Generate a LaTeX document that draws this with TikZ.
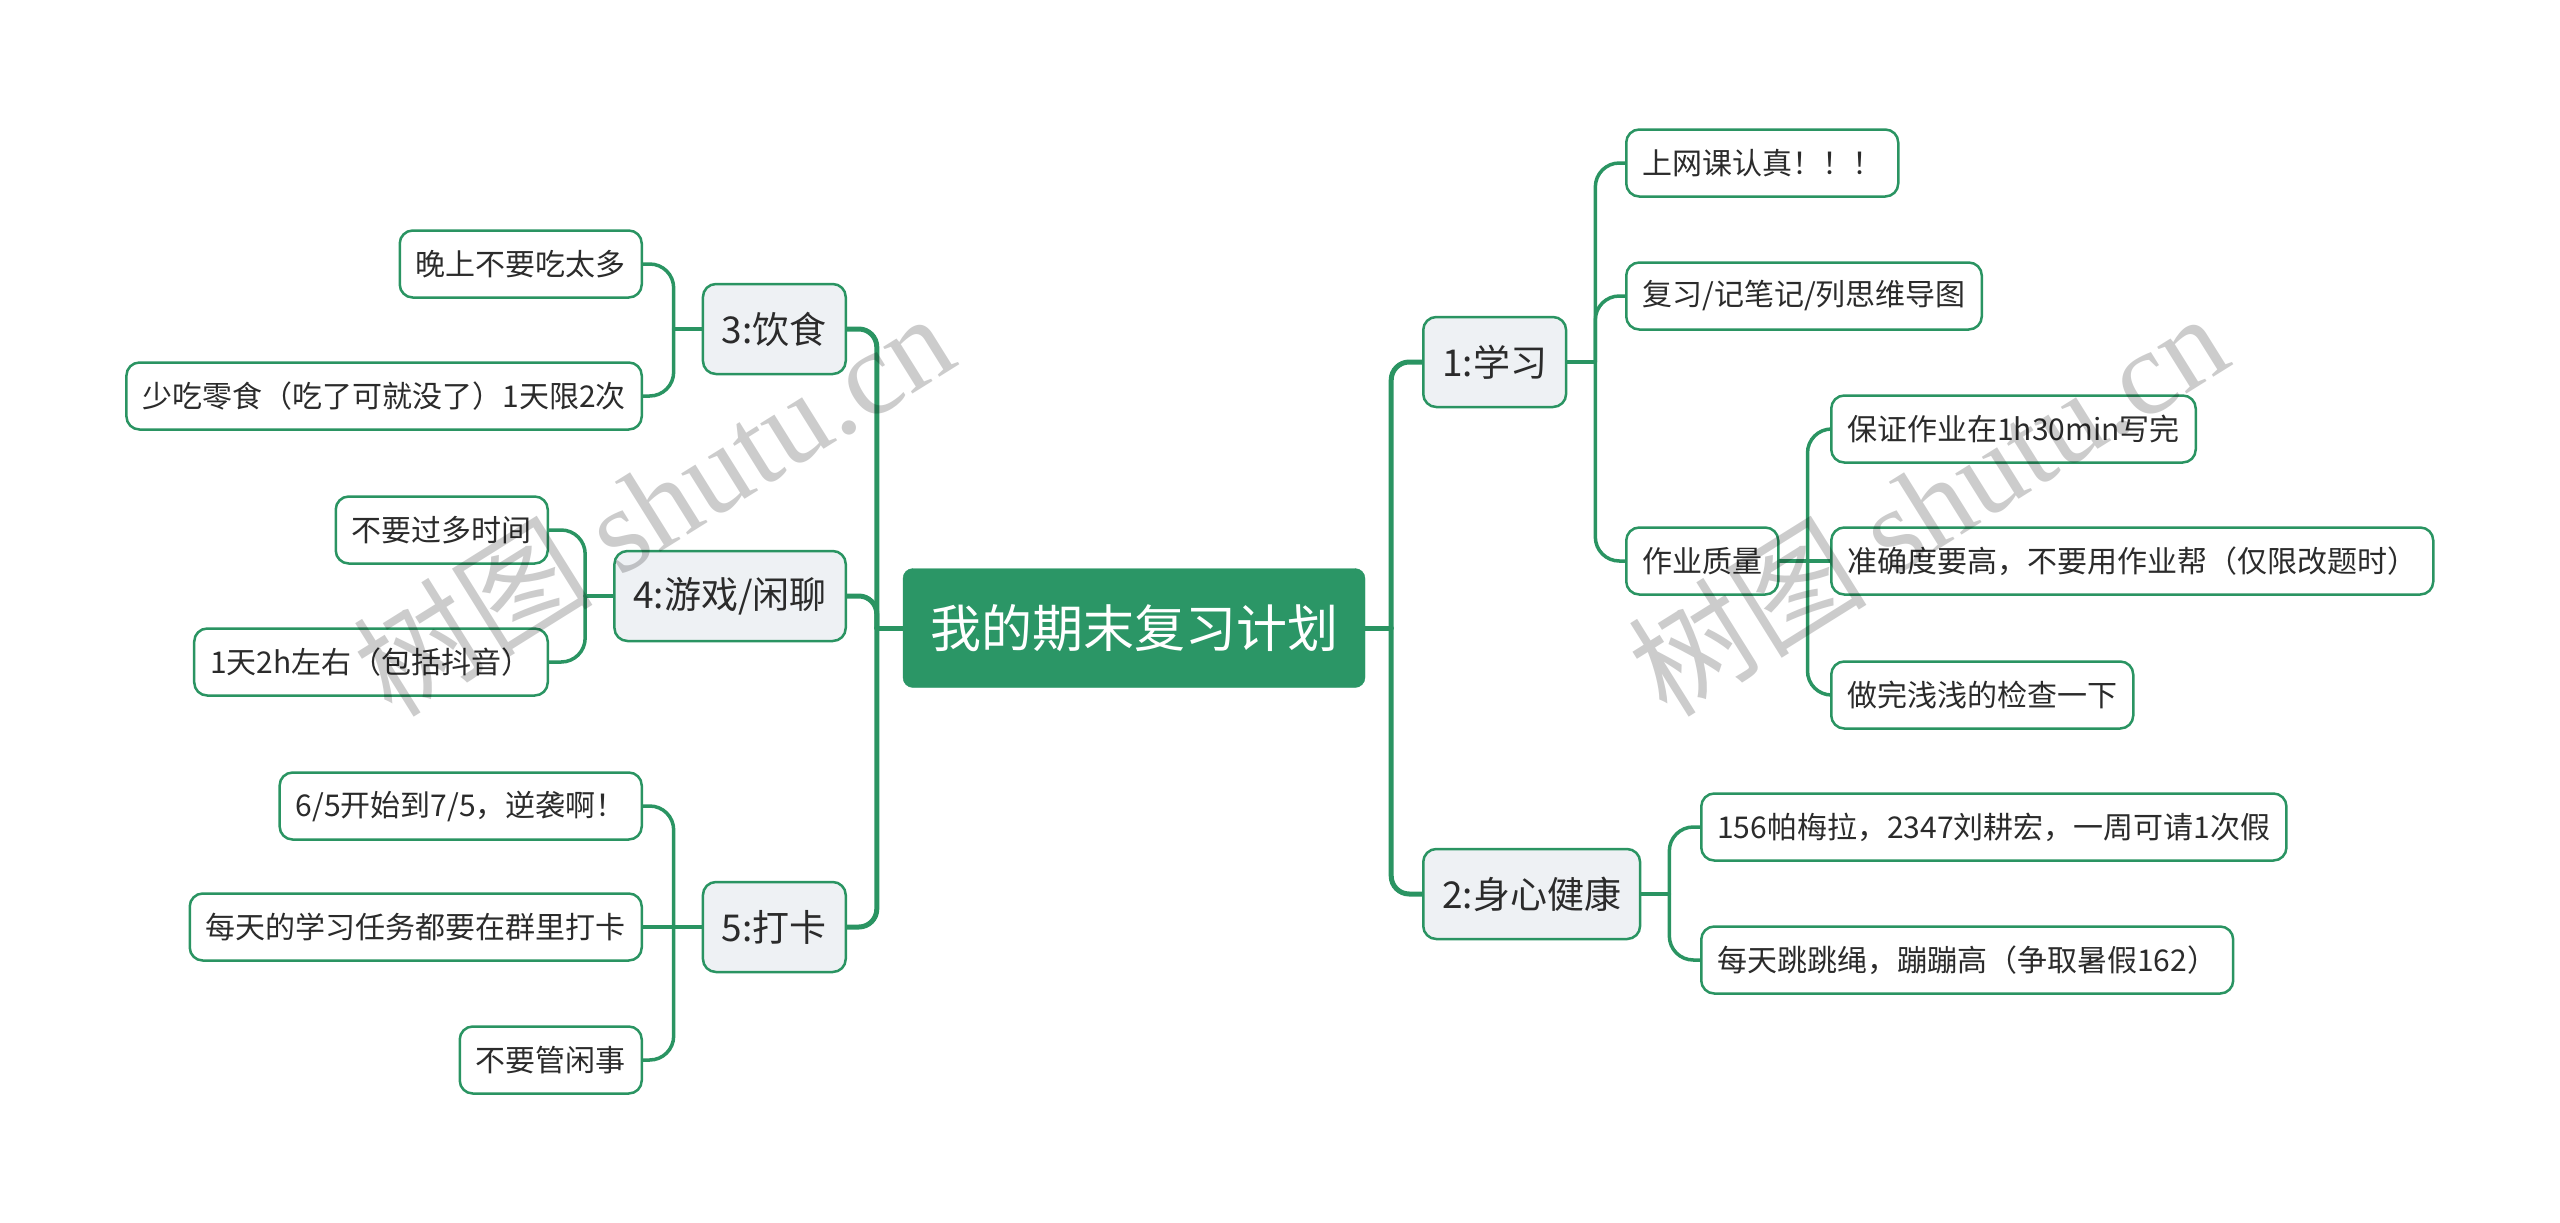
\documentclass[tikz,border=0pt]{standalone}
\usepackage{fontspec}
\setmainfont{Noto Sans CJK SC}
\newfontfamily\wmlat{Liberation Serif}
\usetikzlibrary{calc,backgrounds}
\definecolor{brgreen}{HTML}{2A9462}
\definecolor{rootfill}{HTML}{2B9666}
\definecolor{lonefill}{HTML}{EEF1F4}
\definecolor{txt}{HTML}{2B2B2B}
\tikzset{
 rootbox/.style={draw=rootfill, fill=rootfill, rounded corners=10pt, text=white, font=\fontsize{51}{60}\selectfont, minimum height=119pt, inner xsep=27pt},
 lonebox/.style={draw=brgreen, line width=2.5pt, fill=lonefill, rounded corners=13pt, text=txt, font=\fontsize{37}{44}\selectfont, minimum height=90pt, inner xsep=19pt},
 ltwobox/.style={draw=brgreen, line width=2.5pt, fill=white, rounded corners=13pt, text=txt, font=\fontsize{30}{36}\selectfont, minimum height=67pt, inner xsep=16pt},
 trunk/.style={draw=brgreen, line width=5pt, line cap=round},
 twig/.style={draw=brgreen, line width=3.5pt, line cap=round},
 wmark/.style={rotate=32, text=black, text opacity=0.2, font=\fontsize{120}{120}\selectfont},
}
\begin{document}
\begin{tikzpicture}[x=1pt,y=-1pt]
\useasboundingbox (0,0) rectangle (2560,1223);
% nodes
\node[rootbox] (root) at (1134,628) {我的期末复习计划};
\node[lonebox, anchor=west] (n1) at (1422,362) {1:学习};
\node[lonebox, anchor=west] (n2) at (1422,894) {2:身心健康};
\node[lonebox, anchor=east] (n3) at (847,329) {3:饮食};
\node[lonebox, anchor=east] (n4) at (847,596) {4:游戏/闲聊};
\node[lonebox, anchor=east] (n5) at (847,927) {5:打卡};

\node[ltwobox, anchor=west] (a1) at (1625,163) {上网课认真！！！};
\node[ltwobox, anchor=west] (a2) at (1625,296) {复习/记笔记/列思维导图};
\node[ltwobox, anchor=west] (a3) at (1625,561) {作业质量};
\node[ltwobox, anchor=west] (b1) at (1830,429) {保证作业在1h30min写完};
\node[ltwobox, anchor=west] (b2) at (1830,561) {准确度要高，不要用作业帮（仅限改题时）};
\node[ltwobox, anchor=west] (b3) at (1830,695) {做完浅浅的检查一下};
\node[ltwobox, anchor=west] (c1) at (1700,827) {156帕梅拉，2347刘耕宏，一周可请1次假};
\node[ltwobox, anchor=west] (c2) at (1700,960) {每天跳跳绳，蹦蹦高（争取暑假162）};
\node[ltwobox, anchor=east] (d1) at (643,264) {晚上不要吃太多};
\node[ltwobox, anchor=east] (d2) at (643,396) {少吃零食（吃了可就没了）1天限2次};
\node[ltwobox, anchor=east] (e1) at (549,530) {不要过多时间};
\node[ltwobox, anchor=east] (e2) at (549,662) {1天2h左右（包括抖音）};
\node[ltwobox, anchor=east] (f1) at (643,806) {6/5开始到7/5，逆袭啊！};
\node[ltwobox, anchor=east] (f2) at (643,927) {每天的学习任务都要在群里打卡};
\node[ltwobox, anchor=east] (f3) at (643,1060) {不要管闲事};

% junctions
\coordinate (rjR) at ([xshift=26pt]root.east);
\coordinate (rjL) at ([xshift=-26pt]root.west);
\coordinate (j1) at ([xshift=28pt]n1.east);
\coordinate (j2) at ([xshift=28pt]n2.east);
\coordinate (ja3) at ([xshift=28pt]a3.east);
\coordinate (j3) at ([xshift=-28pt]n3.west);
\coordinate (j4) at ([xshift=-28pt]n4.west);
\coordinate (j5) at ([xshift=-28pt]n5.west);

\begin{pgfonlayer}{background}
\draw[trunk] (root.east) -- (rjR);
\draw[trunk, rounded corners=18pt] (rjR) |- (n1.west);
\draw[trunk, rounded corners=18pt] (rjR) |- (n2.west);
\draw[trunk] (root.west) -- (rjL);
\draw[trunk, rounded corners=18pt] (rjL) |- (n3.east);
\draw[trunk, rounded corners=18pt] (rjL) |- (n4.east);
\draw[trunk, rounded corners=18pt] (rjL) |- (n5.east);

\draw[twig] (n1.east) -- (j1);
\draw[twig, rounded corners=24pt] (j1) |- (a1.west);
\draw[twig, rounded corners=24pt] (j1) |- (a2.west);
\draw[twig, rounded corners=24pt] (j1) |- (a3.west);

\draw[twig] (a3.east) -- (b2.west);
\draw[twig, rounded corners=24pt] (ja3) |- (b1.west);
\draw[twig, rounded corners=24pt] (ja3) |- (b3.west);

\draw[twig] (n2.east) -- (j2);
\draw[twig, rounded corners=24pt] (j2) |- (c1.west);
\draw[twig, rounded corners=24pt] (j2) |- (c2.west);

\draw[twig] (n3.west) -- (j3);
\draw[twig, rounded corners=24pt] (j3) |- (d1.east);
\draw[twig, rounded corners=24pt] (j3) |- (d2.east);

\draw[twig] (n4.west) -- (j4);
\draw[twig, rounded corners=24pt] (j4) |- (e1.east);
\draw[twig, rounded corners=24pt] (j4) |- (e2.east);

\draw[twig] (n5.west) -- (f2.east);
\draw[twig, rounded corners=24pt] (j5) |- (f1.east);
\draw[twig, rounded corners=24pt] (j5) |- (f3.east);
\end{pgfonlayer}

% watermarks
\node[wmark] (wm1) at (653,503) {树图 {\wmlat shutu.cn}};
\node[wmark] (wm2) at (1927,503) {树图 {\wmlat shutu.cn}};
\end{tikzpicture}
\end{document}
